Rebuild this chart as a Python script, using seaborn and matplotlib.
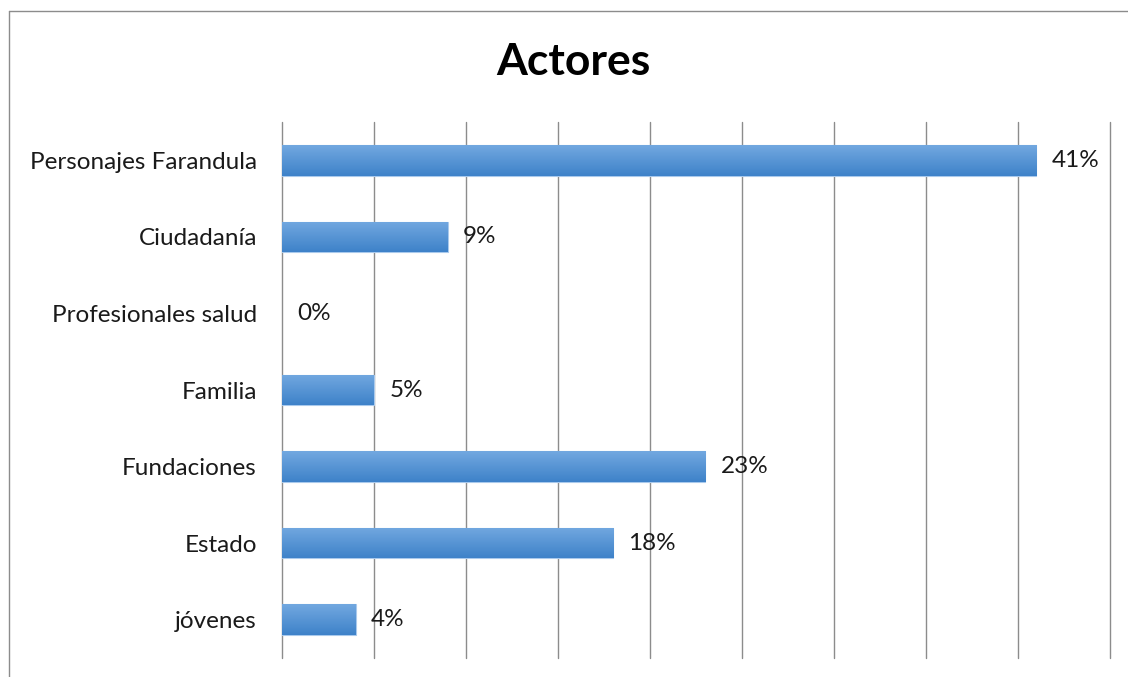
import numpy as np
import pandas as pd
import matplotlib
matplotlib.use("Agg")
import matplotlib.pyplot as plt
from matplotlib.lines import Line2D
import seaborn as sns

# Share of mentions by type of actor
categories = ["Personajes Farandula", "Ciudadanía", "Profesionales salud",
              "Familia", "Fundaciones", "Estado", "jóvenes"]
values = [41, 9, 0, 5, 23, 18, 4]
value_labels = ["41%", "9%", "0%", "5%", "23%", "18%", "4%"]
grid_ticks = [0, 5, 10, 15, 20, 25, 30, 35, 40, 45]

df = pd.DataFrame({"actor": categories, "pct": values})

sns.set_theme(style="white")
plt.rcParams["font.family"] = ["Lato", "DejaVu Sans"]

fig = plt.figure(figsize=(11.28, 6.77), dpi=100)
ax = fig.add_axes([282 / 1128, 1 - 658 / 677, (1110 - 282) / 1128, (658 - 122) / 677])

sns.barplot(data=df, x="pct", y="actor", orient="h", ax=ax,
            color="#4f8fd3", width=0.4, edgecolor="#a9c9ec", linewidth=0.8,
            zorder=3)

# vertical gradient fill, light on top, darker at the bottom
top_c = np.array([0x72, 0xa8, 0xe0]) / 255
bot_c = np.array([0x3e, 0x82, 0xc9]) / 255
grad = np.linspace(0, 1, 64)[:, None, None]
img = top_c * (1 - grad) + bot_c * grad
for patch in ax.patches:
    x0, y0 = patch.get_x(), patch.get_y()
    w, h = patch.get_width(), patch.get_height()
    if w <= 0:
        patch.set_linewidth(0)
        continue
    im = ax.imshow(img, extent=[x0, x0 + w, y0 + h, y0], aspect="auto",
                   interpolation="bilinear", zorder=3.5)
    im.set_clip_path(patch)

ax.set_xlim(0, 45)
ax.set_ylim(6.5, -0.5)
ax.set_xticks(grid_ticks)
ax.set_xticklabels([])
ax.tick_params(axis="x", length=0)
ax.tick_params(axis="y", length=0, pad=18, labelsize=17.5, labelcolor="#1a1a1a")
ax.xaxis.grid(True, color="#8c8c8c", linewidth=1.0, zorder=0)
for gl in ax.get_xgridlines():
    gl.set_clip_on(False)
ax.yaxis.grid(False)
ax.set_xlabel("")
ax.set_ylabel("")
for s in ax.spines.values():
    s.set_visible(False)

for i, (v, lab) in enumerate(zip(values, value_labels)):
    ax.annotate(lab, xy=(v, i), xytext=(11, 0), textcoords="offset points",
                ha="left", va="center", fontsize=17.5, color="#1a1a1a", zorder=5)

fig.text(573 / 1128, 1 - 62 / 677, "Actores", ha="center", va="center",
         fontsize=32, fontweight="bold", color="#000000")

# chart-area frame (top and left edges)
fig.add_artist(Line2D([8.5 / 1128, 1.0], [1 - 10.5 / 677] * 2,
                      transform=fig.transFigure, color="#8c8c8c", linewidth=1.0))
fig.add_artist(Line2D([8.5 / 1128] * 2, [0.0, 1 - 10.5 / 677],
                      transform=fig.transFigure, color="#8c8c8c", linewidth=1.0))

fig.savefig("out.png", dpi=100, facecolor="white")
